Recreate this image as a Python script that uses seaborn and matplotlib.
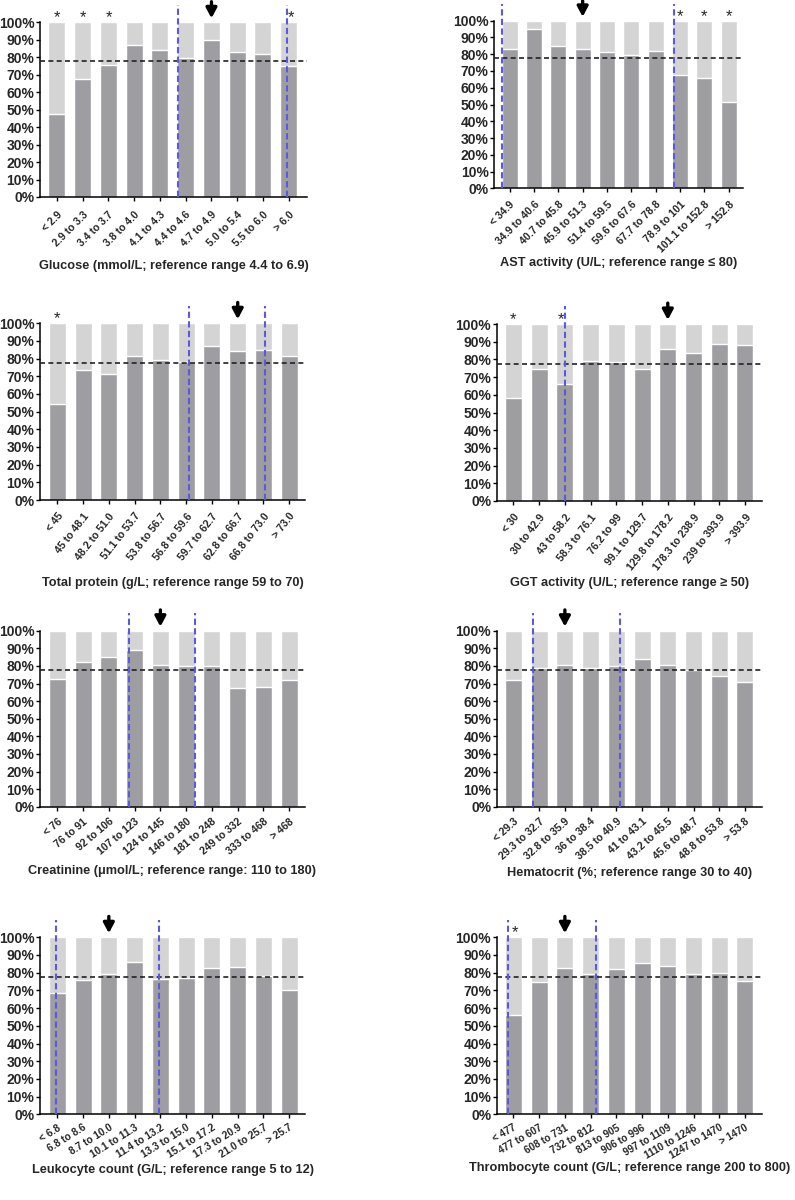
"""
Stacked 100% bar panels: share of cases per analyte bin, with reference range markers.
"""

import numpy as np
import matplotlib
matplotlib.use('Agg')
import matplotlib.pyplot as plt
import seaborn as sns

# ---- data -------------------------------------------------------------
OVERALL = 0.776  # overall rate (black dashed line)

glucose_bins = ["< 2.9", "2.9 to 3.3", "3.4 to 3.7", "3.8 to 4.0", "4.1 to 4.3",
                "4.4 to 4.6", "4.7 to 4.9", "5.0 to 5.4", "5.5 to 6.0", "> 6.0"]
glucose_vals = [0.476, 0.675, 0.755, 0.870, 0.841, 0.797, 0.899, 0.828, 0.816, 0.750]

ast_bins = ["< 34.9", "34.9 to 40.6", "40.7 to 45.8", "45.9 to 51.3", "51.4 to 59.5",
            "59.6 to 67.6", "67.7 to 78.8", "78.9 to 101", "101.1 to 152.8", "> 152.8"]
ast_vals = [0.831, 0.948, 0.849, 0.831, 0.813, 0.795, 0.821, 0.676, 0.658, 0.515]

protein_bins = ["< 45", "45 to 48.1", "48.2 to 51.0", "51.1 to 53.7", "53.8 to 56.7",
                "56.8 to 59.6", "59.7 to 62.7", "62.8 to 66.7", "66.8 to 73.0", "> 73.0"]
protein_vals = [0.545, 0.734, 0.713, 0.815, 0.794, 0.783, 0.870, 0.843, 0.847, 0.815]

ggt_bins = ["< 30", "30 to 42.9", "43 to 58.2", "58.3 to 76.1", "76.2 to 99",
            "99.1 to 129.7", "129.8 to 178.2", "178.3 to 238.9", "239 to 393.9", "> 393.9"]
ggt_vals = [0.582, 0.748, 0.661, 0.791, 0.783, 0.744, 0.859, 0.834, 0.889, 0.879]

creat_bins = ["< 76", "76 to 91", "92 to 106", "107 to 123", "124 to 145",
              "146 to 180", "181 to 248", "249 to 332", "333 to 468", "> 468"]
creat_vals = [0.725, 0.822, 0.850, 0.888, 0.805, 0.799, 0.799, 0.674, 0.678, 0.720]

hct_bins = ["< 29.3", "29.3 to 32.7", "32.8 to 35.9", "36 to 38.4", "38.5 to 40.9",
            "41 to 43.1", "43.2 to 45.5", "45.6 to 48.7", "48.8 to 53.8", "> 53.8"]
hct_vals = [0.720, 0.786, 0.803, 0.788, 0.797, 0.841, 0.805, 0.777, 0.742, 0.708]

leuko_bins = ["< 6.8", "6.8 to 8.6", "8.7 to 10.0", "10.1 to 11.3", "11.4 to 13.2",
              "13.3 to 15.0", "15.1 to 17.2", "17.3 to 20.9", "21.0 to 25.7", "> 25.7"]
leuko_vals = [0.685, 0.757, 0.791, 0.859, 0.766, 0.770, 0.825, 0.834, 0.780, 0.702]

thrombo_bins = ["< 477", "477 to 607", "608 to 731", "732 to 812", "813 to 905",
                "906 to 996", "997 to 1109", "1110 to 1246", "1247 to 1470", "> 1470"]
thrombo_vals = [0.561, 0.746, 0.825, 0.795, 0.821, 0.857, 0.840, 0.795, 0.800, 0.755]

titles = [
    "Glucose (mmol/L; reference range 4.4 to 6.9)",
    "AST activity (U/L; reference range \u2264 80)",
    "Total protein (g/L; reference range 59 to 70)",
    "GGT activity (U/L; reference range \u2265 50)",
    "Creatinine (\u03bcmol/L; reference range: 110 to 180)",
    "Hematocrit (%; reference range 30 to 40)",
    "Leukocyte count (G/L; reference range 5 to 12)",
    "Thrombocyte count (G/L; reference range 200 to 800)",
]

# reference range limits (in bin units), bin marked with arrow, significant bins
ref_lines = [[4.70, 8.94], [-0.33, 6.74], [5.12, 8.06], [2.01],
             [2.77, 5.33], [0.76, 4.13], [-0.03, 3.96], [-0.23, 3.20]]
arrow_bins = [6, 3, 7, 6, 4, 2, 2, 2]
star_bins = [[0, 1, 2, 9.1], [7, 8, 9], [0], [0, 1.86], [], [], [], [0.05]]

panels = [
    (glucose_bins, glucose_vals), (ast_bins, ast_vals),
    (protein_bins, protein_vals), (ggt_bins, ggt_vals),
    (creat_bins, creat_vals), (hct_bins, hct_vals),
    (leuko_bins, leuko_vals), (thrombo_bins, thrombo_vals),
]

# ---- layout (pixels: left, top, right, bottom; label centre y) ----------
W, H = 795, 1200
rects = [(40, 22.3, 307, 197), (494.3, 20.7, 743.3, 188.3),
         (40, 323.3, 305, 500), (496.7, 324, 761.7, 501),
         (40, 630.7, 305, 806.7), (496.7, 630.7, 761.7, 806.7),
         (40, 937.3, 305, 1114.3), (496.7, 937.3, 761.7, 1114.3)]
xlims = [(-0.66, 9.71), (-0.63, 9.6), (-0.67, 9.61), (-0.65, 9.65),
         (-0.67, 9.61), (-0.65, 9.65), (-0.67, 9.61), (-0.65, 9.65)]
label_y = [266, 263, 583, 583, 871, 873, 1170, 1168]
# x tick label rotation / size / pad per panel
rot = [45, 45, 52, 52, 40, 42, 32, 30]
tsize = [7.6, 7.6, 7.6, 7.6, 7.6, 7.6, 7.3, 7.2]
tpad = [6, 5, 5, 5, 4, 4, 3, 3]

LIGHT = '#d4d4d4'
DARK = '#9e9da2'
BLUE = '#5a5ae0'

sns.set_style('white')
plt.rcParams['font.family'] = ['Liberation Sans', 'DejaVu Sans']
plt.rcParams['font.weight'] = 'bold'

fig = plt.figure(figsize=(W / 100, H / 100), dpi=100)

for k, (bins, vals) in enumerate(panels):
    l, t, r, b = rects[k]
    ax = fig.add_axes([l / W, 1 - b / H, (r - l) / W, (b - t) / H])

    sns.barplot(x=bins, y=[1.0] * len(bins), color=LIGHT, saturation=1,
                width=0.66, errorbar=None, ax=ax)
    sns.barplot(x=bins, y=vals, color=DARK, saturation=1,
                width=0.66, errorbar=None, ax=ax)

    ax.axhline(OVERALL, color='#222222', lw=1.2, ls=(0, (3, 2)), zorder=3)

    for xv in ref_lines[k]:
        ax.plot([xv, xv], [0, 1.10], color=BLUE, lw=1.5, ls=(0, (3, 1.6)),
                clip_on=False, zorder=4)

    ax.annotate('', xy=(arrow_bins[k], 1.023), xytext=(arrow_bins[k], 1.118),
                arrowprops=dict(arrowstyle='-|>,head_length=0.6,head_width=0.32',
                                color='black', lw=2.4, shrinkA=0, shrinkB=0),
                annotation_clip=False)

    for sx in star_bins[k]:
        ax.text(sx, 1.0, '*', ha='center', va='baseline', fontsize=12,
                fontweight='normal', clip_on=False)

    ax.set_xlim(*xlims[k])
    ax.set_ylim(0, 1)
    ax.set_yticks(np.arange(0, 1.01, 0.1))
    ax.set_yticklabels([f'{int(round(v * 100))}%' for v in np.arange(0, 1.01, 0.1)],
                       fontsize=10, fontweight='bold')
    ax.set_xticks(range(len(bins)))
    ax.set_xticklabels(bins, rotation=rot[k], ha='right', rotation_mode='anchor',
                       fontsize=tsize[k], fontweight='bold')
    ax.tick_params(axis='y', direction='out', length=3, width=1, color='black',
                   left=True, pad=1)
    ax.tick_params(axis='x', direction='out', length=3, width=1, color='black',
                   bottom=True, pad=tpad[k])
    ax.set_ylabel('')
    ax.set_xlabel(titles[k], fontsize=9.2, fontweight='bold', va='center')
    ax.xaxis.set_label_coords(0.5, -(label_y[k] - b) / (b - t))
    ax.spines['top'].set_visible(False)
    ax.spines['right'].set_visible(False)
    for s in ('left', 'bottom'):
        ax.spines[s].set_color('black')
        ax.spines[s].set_linewidth(1.1)

plt.savefig('out.png', dpi=100)
plt.close()
